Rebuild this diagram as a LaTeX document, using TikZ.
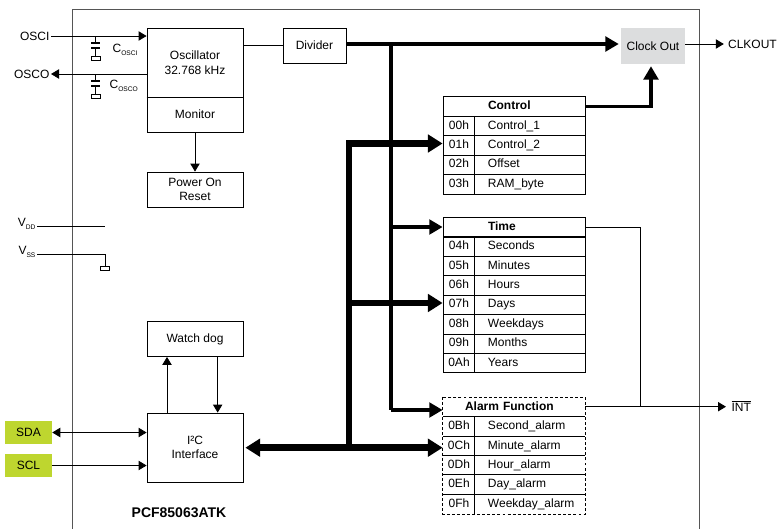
\documentclass[tikz,border=0pt]{standalone}
\usepackage{fontspec}
\setmainfont{Liberation Sans}
\usetikzlibrary{arrows.meta}
\newcommand{\subtext}[1]{\raisebox{-0.45ex}{\fontsize{5}{5}\selectfont #1}}
\newcommand{\regaddr}[1]{\makebox[24pt]{#1}\hspace{9.75pt}}
\definecolor{framegray}{HTML}{555555}
\definecolor{clockgray}{HTML}{DCDDDE}
\definecolor{pingreen}{HTML}{BED62F}
\tikzset{
  base/.style     = {font=\fontsize{9}{11}\selectfont, inner sep=0pt, align=center},
  block/.style    = {base, rectangle, draw=black, line width=0.6pt, minimum width=72pt},
  pinlabel/.style = {base, inner sep=1pt},
  greenpin/.style = {base, fill=pingreen, minimum width=35.25pt, minimum height=17.25pt},
  regrow/.style   = {base, rectangle, draw=black, line width=0.6pt, minimum width=106.5pt, minimum height=14.55pt, text width=106.5pt, align=left, text height=6.6pt, text depth=1.9pt},
  reghead/.style  = {regrow, font=\fontsize{9}{11}\selectfont\bfseries},
  alarmhead/.style= {reghead, draw=none},
  alarmrow/.style = {regrow, draw=none},
  gndbox/.style   = {rectangle, draw=black, line width=0.5pt, fill=white, inner sep=0pt, minimum width=6.5pt, minimum height=3pt},
  plate/.style    = {rectangle, fill=black, inner sep=0pt, minimum width=6.5pt, minimum height=1.6pt},
  wire/.style     = {line width=0.6pt, -{Triangle[length=6pt,width=7pt]}},
  plain/.style    = {line width=0.6pt},
  clkbus/.style   = {line width=2.4pt, -{Triangle[length=10pt,width=11pt]}},
  databus/.style  = {line width=5pt, -{Triangle[length=11pt,width=13pt]}},
}
\begin{document}
\begin{tikzpicture}[x=0.75pt,y=-0.75pt]
  \useasboundingbox (0,0) rectangle (783,529);

  \draw[framegray, line width=0.7pt] (72,529) -- (72,9) -- (699,9) -- (699,529);

  \node[block, minimum height=51.75pt] (osc)     at (195,62.5)  {Oscillator\\32.768 kHz};
  \node[block, minimum height=26.25pt] (monitor) at (195,114.5) {Monitor};
  \node[block, minimum height=26.25pt] (por)     at (195,189.5) {Power On\\Reset};
  \node[block, minimum width=47.25pt, minimum height=26.25pt] (divider) at (314.5,45.5) {Divider};
  \node[block, minimum height=26.25pt] (watch)   at (195,339)   {Watch dog};
  \node[block, minimum height=51.75pt] (i2c)     at (195,447.5) {I²C\\Interface};
  \node[base, fill=clockgray, minimum width=48pt, minimum height=27pt] (clock) at (653,46) {Clock Out};
  \draw[line width=1.1pt] (osc.south west) -- (osc.south east);

  \node[pinlabel, anchor=east] (osci) at (51,36)  {OSCI};
  \node[pinlabel, anchor=east] (osco) at (51,74)  {OSCO};
  \node[pinlabel, anchor=east] (vdd)  at (37,224) {V\subtext{DD}};
  \node[pinlabel, anchor=east] (vss)  at (37,252) {V\subtext{SS}};
  \node[greenpin] (sda) at (28.5,432.5) {SDA};
  \node[greenpin] (scl) at (28.5,465.5) {SCL};
  \node[pinlabel, anchor=west] (clkout) at (726.5,44)  {CLKOUT};
  \node[pinlabel, anchor=west] (int)    at (730,406) {$\overline{\mbox{INT}}$};
  \node[base, font=\fontsize{10.5}{12}\selectfont\bfseries] (chip) at (179,513) {PCF85063ATK};

  \node[pinlabel, anchor=west] (cosci) at (111,50) {C\subtext{OSCI}};
  \node[pinlabel, anchor=west] (cosco) at (108,86) {C\subtext{OSCO}};
  \node[plate]  (platea) at (95.5,43)   {};
  \node[plate]  (plateb) at (95.5,48)   {};
  \node[gndbox] (gnda)   at (95.5,58)   {};
  \node[plate]  (platec) at (95.5,81)   {};
  \node[plate]  (plated) at (95.5,86)   {};
  \node[gndbox] (gndb)   at (95.5,96.5) {};
  \node[gndbox] (gndc)   at (105,268)   {};

  \node[reghead] (ctrl) at (514,106.5) {\regaddr{}Control};
  \node[regrow] (r00) at (514,126)    {\regaddr{00h}Control\_1};
  \node[regrow] (r01) at (514,145.4)  {\regaddr{01h}Control\_2};
  \node[regrow] (r02) at (514,164.8)  {\regaddr{02h}Offset};
  \node[regrow] (r03) at (514,184.2)  {\regaddr{03h}RAM\_byte};

  \node[reghead] (time) at (514,227) {\regaddr{}Time};
  \node[regrow] (r04) at (514,246.6) {\regaddr{04h}Seconds};
  \node[regrow] (r05) at (514,266)   {\regaddr{05h}Minutes};
  \node[regrow] (r06) at (514,285.4) {\regaddr{06h}Hours};
  \node[regrow] (r07) at (514,304.8) {\regaddr{07h}Days};
  \node[regrow] (r08) at (514,324.2) {\regaddr{08h}Weekdays};
  \node[regrow] (r09) at (514,343.6) {\regaddr{09h}Months};
  \node[regrow] (r0a) at (514,363)   {\regaddr{0Ah}Years};

  \node[alarmhead] (alarm) at (514,407) {\hspace*{16.5pt}Alarm Function};
  \node[alarmrow] (r0b) at (514,426.6) {\regaddr{0Bh}Second\_alarm};
  \node[alarmrow] (r0c) at (514,446)   {\regaddr{0Ch}Minute\_alarm};
  \node[alarmrow] (r0d) at (514,465.4) {\regaddr{0Dh}Hour\_alarm};
  \node[alarmrow] (r0e) at (514,484.8) {\regaddr{0Eh}Day\_alarm};
  \node[alarmrow] (r0f) at (514,504.2) {\regaddr{0Fh}Weekday\_alarm};

  \draw[plain] ([xshift=24pt]r00.north west) -- ([xshift=24pt]r03.south west);
  \draw[plain] ([xshift=24pt]r04.north west) -- ([xshift=24pt]r0a.south west);
  \draw[plain] ([xshift=24pt]r0b.north west) -- ([xshift=24pt]r0f.south west);
  \foreach \row in {r0b,r0c,r0d,r0e,r0f}
    \draw[plain] (\row.north west) -- (\row.north east);
  \draw[plain, dash pattern=on 2.2pt off 1.6pt] (alarm.north west) rectangle (r0f.south east);

  \coordinate (clkdown) at (391,44);
  \coordinate (busbot)  at (349,447.7);
  \coordinate (bustop)  at (349,143.5);
  \coordinate (busmid)  at (349,303);
  \coordinate (alarmin) at (391,410);
  \coordinate (vddend)  at (105,226);
  \coordinate (vssend)  at (105,254);
  \coordinate (intturn) at (640,406.7);
  \coordinate (clkdrop) at (651,105);

  \draw[wire]  (osci.east) -- (osci.east -| osc.west);
  \draw[wire]  (osco.east -| osc.west) -- (osco.east);
  \draw[plain] (platea |- osci) -- (platea);
  \draw[plain] (plateb) -- (gnda);
  \draw[plain] (platec |- osco) -- (platec);
  \draw[plain] (plated) -- (gndb);
  \draw[plain] (vdd.east |- vddend) -- (vddend);
  \draw[plain] (vss.east |- vssend) -- (vssend) -- (gndc);

  \draw[plain] (osc.east |- divider) -- (divider);
  \draw[wire]  (monitor) -- (por);
  \draw[wire]  ([xshift=-21pt]i2c.north) -- ([xshift=-21pt]watch.south);
  \draw[wire]  ([xshift=17pt]watch.south) -- ([xshift=17pt]i2c.north);
  \draw[line width=0.6pt, {Triangle[length=6pt,width=7pt]}-{Triangle[length=6pt,width=7pt]}] (sda.east) -- (sda.east -| i2c.west);
  \draw[wire]  (scl.east) -- (scl.east -| i2c.west);

  \draw[clkbus, shorten >=1.5pt] (divider.east |- clkdown) -- (clkdown -| clock.west);
  \draw[wire]  (clkdown -| clock.east) -- ([xshift=-2pt]clkout.west);
  \draw[line width=2.4pt] (clkdown) -- (alarmin);
  \draw[clkbus] (clkdown |- time) -- (time.west);
  \draw[clkbus] (alarmin) -- (alarmin -| alarm.west);
  \draw[clkbus, shorten >=1.5pt] (ctrl.east) -- (clkdrop |- ctrl.east) -- (clkdrop |- clock.south);

  \draw[databus, shorten >=1.5pt] (busbot) -- (busbot -| i2c.east);
  \draw[databus] (busbot) -- (busbot -| r0c.west);
  \draw[databus] (busbot) -- (bustop) -- (bustop -| r01.west);
  \draw[databus] (busmid) -- (busmid -| r07.west);

  \draw[plain] (time.east) -- (time.east -| intturn) -- (intturn);
  \draw[wire]  (alarm.east |- intturn) -- ([xshift=-3pt]int.west |- intturn);
\end{tikzpicture}
\end{document}
